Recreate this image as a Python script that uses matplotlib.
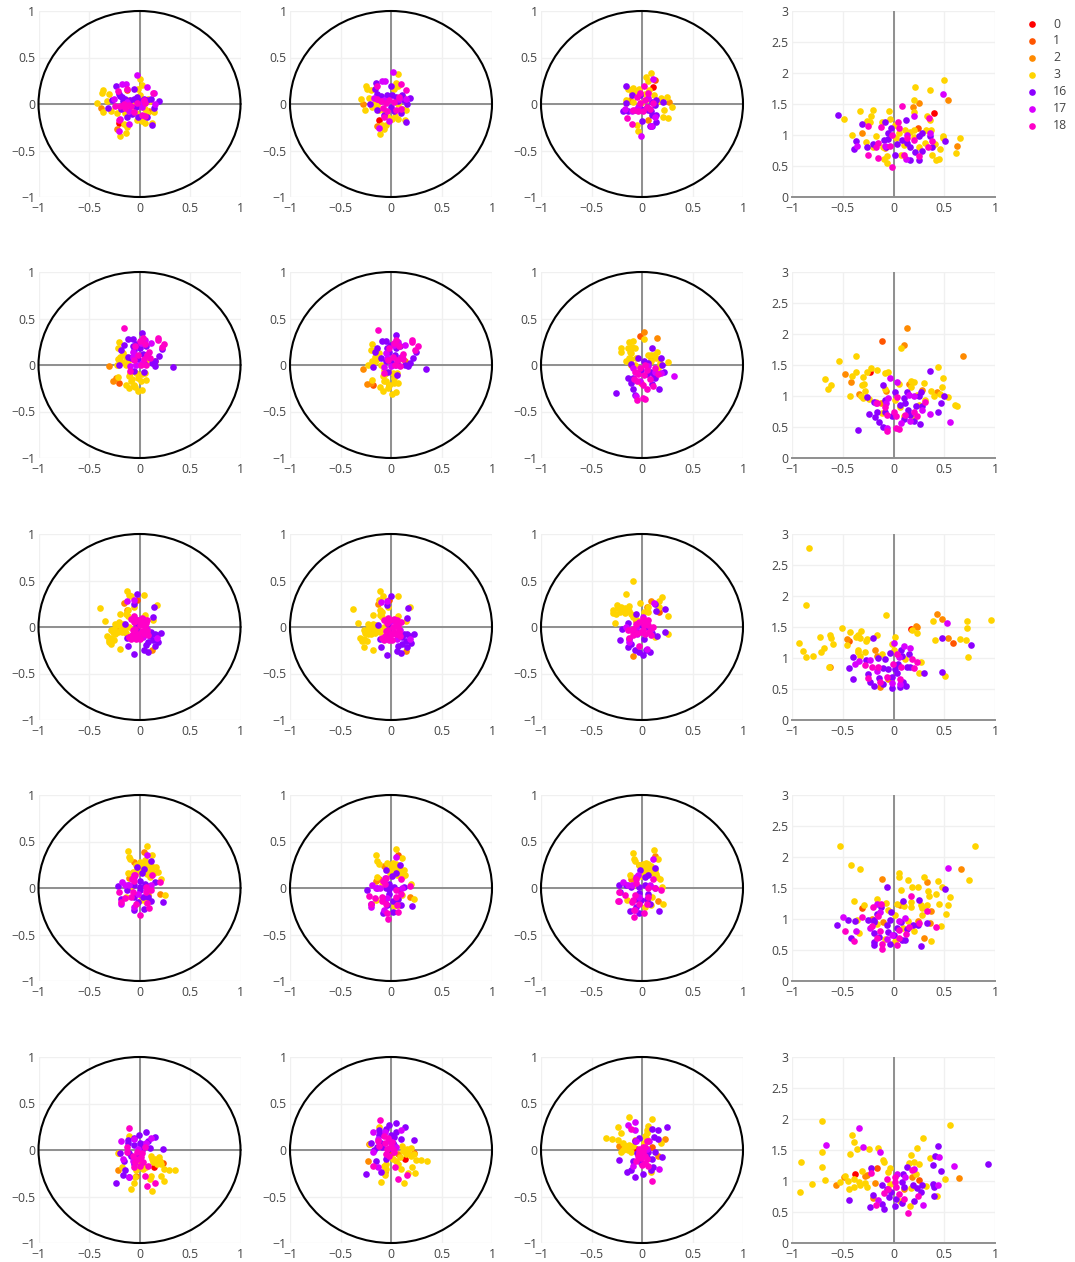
import matplotlib
matplotlib.use("Agg")
import matplotlib.pyplot as plt
from matplotlib.patches import Circle

SERIES = ["0", "1", "2", "3", "16", "17", "18"]
SERIES_KEYS = ["s0", "s1", "s2", "s3", "s16", "s17", "s18"]
COLORS = ["#ff0000", "#ff5500", "#ff8a00", "#ffd400", "#8c00ff", "#d900ff", "#ff00c8"]
CIRCLE_TICKS = [-1, -0.5, 0, 0.5, 1]
CIRCLE_LABELS = ["\u22121", "\u22120.5", "0", "0.5", "1"]
Y_TICKS = [0, 0.5, 1, 1.5, 2, 2.5, 3]
Y_LABELS = ["0", "0.5", "1", "1.5", "2", "2.5", "3"]

# ---------- row 1 ----------
p11_s0 = [(-.2,-.2)]
p11_s1 = [(-.12,.15)]
p11_s2 = [(-.38,-.04),(-.22,-.27),(.09,-.08)]
p11_s3 = [(-.42,.01),(-.36,.15),(-.37,.12),(-.30,.11),(-.32,.03),(-.36,-.09),(-.28,-.07),(-.22,-.1),(-.19,-.34),(-.13,-.31),(-.12,-.25),(-.15,-.22),(-.14,-.1),(-.08,-.08),(-.02,-.17),(.02,-.18),(.05,-.2),(.12,-.2),(.14,-.09),(.05,-.05),(.08,.05),(.0,.27),(.02,.2),(-.01,.16),(.0,.1),(-.1,.04),(-.05,.02),(.1,.03),(.03,-.03),(-.03,-.1),(.07,-.1)]
p11_s16 = [(-.23,.19),(-.05,.16),(-.31,-.04),(.19,.03),(.14,-.04),(.12,-.23),(.07,-.14),(-.27,.04),(-.2,.11),(-.17,.07),(-.14,.05),(-.05,.05),(-.02,.07),(.04,.05),(.11,.05),(-.03,-.03),(-.07,-.11),(-.12,-.14),(-.01,-.14),(-.18,-.05),(-.19,.09),(-.16,.03),(-.09,.04),(.01,.03),(.07,.04)]
p11_s17 = [(-.02,.31),(-.17,.21),(-.13,.21),(.07,.18),(.14,.12),(-.25,.05),(.15,.0),(-.2,-.29),(-.12,.02),(.03,.02),(-.1,-.07),(.02,-.03),(-.19,-.16),(-.1,-.21)]
p11_s18 = [(-.21,.14),(-.12,.16),(.13,.12),(-.24,-.02),(-.14,-.04),(-.05,-.09),(.04,.04),(.02,-.12),(.05,-.13),(-.2,-.17),(-.08,-.02),(-.19,-.02),(-.1,-.01),(-.02,.01),(.05,.01),(-.15,.0)]

p12_s0 = [(-.12,-.17)]
p12_s2 = [(-.28,0),(-.14,-.24),(.11,-.05)]
p12_s3 = [(-.30,.05),(-.25,.19),(-.24,.16),(-.2,.15),(-.26,-.06),(-.19,-.03),(-.135,-.01),(-.12,-.06),(-.11,-.32),(-.07,-.27),(-.09,-.23),(-.05,-.23),(.01,-.16),(.07,-.16),(.14,-.17),(.15,-.06),(.07,0),(.05,.23),(.07,.19),(.03,.16),(.07,.32),(.12,.08),(-.07,-.06),(-.03,-.14),(.04,-.13),(-.22,.06),(-.16,.02)]
p12_s16 = [(-.15,.23),(0,.19),(-.21,0),(.19,.06),(.155,0),(.15,-.19),(.1,-.1),(-.135,.11),(-.1,.09),(-.05,.04),(.01,.1),(.05,.08),(.11,.1),(0,-.03),(.03,-.08),(-.07,-.12),(-.14,-.06),(.13,.04),(-.16,.16),(-.13,.05),(-.04,.1),(.07,.03)]
p12_s17 = [(.02,.34),(-.09,.25),(-.06,.25),(-.12,-.26),(-.02,-.18),(.145,.05),(-.17,.06),(-.07,.04),(.08,.05)]
p12_s18 = [(.1,.22),(.145,.15),(-.135,.19),(-.135,.05),(-.05,.01),(.08,.08),(-.04,-.08),(.05,-.06),(-.07,-.14),(.1,-.05),(-.1,.03),(-.02,.04),(.03,.02),(-.08,-.04)]

p13_s0 = [(.11,.18)]
p13_s1 = [(.125,.26)]
p13_s2 = [(.27,.025),(-.12,.04),(.06,-.17)]
p13_s3 = [(.09,.33),(.04,.29),(.06,.25),(-.09,.17),(-.055,.14),(-.14,.16),(-.155,.04),(.25,.08),(.19,.06),(.3,-.03),(.22,-.06),(.21,-.14),(.26,-.15),(-.045,-.23),(-.04,-.29),(.07,.15),(.12,.1),(.14,.02),(-.155,.01),(-.09,.025),(-.005,.01),(.06,.05),(-.07,-.06),(.03,.11),(-.03,.16),(-.1,.12),(.17,.03)]
p13_s16 = [(-.16,.19),(.21,.02),(-.19,-.07),(0,-.18),(.075,-.24),(.1,-.24),(.14,-.19),(.14,-.12),(.09,-.08),(.14,.04),(.125,-.01),(-.1,.1),(-.02,.1),(-.055,-.065),(-.14,-.07),(.045,-.03),(.06,-.065),(-.155,.01),(.1,.02),(-.01,-.05),(.1,-.12)]
p13_s17 = [(.11,.27),(-.01,-.34),(.085,-.24),(-.17,-.05),(-.095,-.08),(.06,.06),(-.04,-.03),(.125,-.14)]
p13_s18 = [(.02,.19),(-.145,-.15),(-.095,-.21),(-.02,.115),(.06,.115),(-.09,-.065),(.01,-.08),(.11,.01),(-.02,.01),(.025,.04),(-.05,.07),(.05,-.03),(-.04,-.08),(.08,-.05)]

p14_s0 = [(.4,1.36)]
p14_s1 = [(.24,1.12)]
p14_s2 = [(.54,1.57),(.25,1.52),(.19,1.45),(-.31,1.04),(.63,.83),(-.08,.79)]
p14_s3 = [(-.49,1.26),(-.33,1.38),(-.2,1.4),(-.22,1.31),(-.26,1.23),(-.23,1.21),(-.11,1.21),(-.41,1.0),(-.27,.88),(-.17,.98),(-.2,.8),(-.04,1.38),(-.03,1.26),(.01,1.16),(.2,1.57),(.21,1.78),(.36,1.72),(.5,1.89),(.2,1.37),(.33,1.31),(.36,1.25),(.37,1.08),(.32,1.08),(.49,.99),(.49,.95),(.66,.95),(.62,.71),(.46,.77),(.45,.62),(.42,.59),(.38,.67),(.41,.86),(-.09,.61),(-.06,.66),(-.06,.55),(.07,.67),(.11,1.08),(.2,1.08),(.16,1.05),(.05,1.03),(.02,.95),(.1,.84),(.25,.81),(.31,.87),(.2,.97),(-.1,.81)]
p14_s16 = [(-.55,1.32),(-.31,1.17),(-.08,1.21),(.12,1.24),(-.37,.91),(-.39,.78),(-.26,.81),(-.2,.86),(-.09,.92),(-.055,1.03),(-.02,1.11),(-.055,.93),(-.07,.81),(.015,.68),(.08,.92),(.16,.81),(.13,.87),(.21,.72),(.25,.6),(.16,.59),(.28,.74),(.28,1.03),(.255,.98),(.355,.98),(.38,.81),(.505,.9),(.03,.86)]
p14_s17 = [(.49,1.66),(.2,1.3),(-.36,.83),(-.08,.82),(.13,1.0),(.12,.61),(.36,1.03)]
p14_s18 = [(.085,1.46),(.35,1.27),(.045,1.21),(-.25,1.14),(-.12,1.13),(.055,1.11),(-.255,.68),(-.15,.63),(-.15,.87),(-.17,.81),(-.03,.83),(-.015,.49),(.105,.67),(.25,.66),(.335,.81),(.375,.9),(.13,.95),(.2,.92),(-.01,1.0)]

# ---------- row 2 ----------
p21_s1 = [(-.2,-.19)]
p21_s2 = [(-.3,-.015),(-.26,-.175),(-.23,-.14),(-.05,-.23),(.15,.04)]
p21_s3 = [(-.2,.25),(-.215,.18),(-.19,.09),(-.215,.06),(-.225,0),(-.165,.13),(-.13,.09),(-.115,.04),(-.13,0),(-.105,-.12),(-.08,-.175),(-.05,-.21),(-.015,-.14),(-.03,-.085),(-.13,-.21),(-.1,-.25),(-.015,-.275),(.025,-.27),(.06,-.16),(.015,-.175),(.065,.04),(.05,-.085),(-.215,-.13),(-.09,-.09),(.02,-.1),(-.17,.03),(-.04,-.24),(-.07,-.15)]
p21_s16 = [(.02,.34),(-.11,.28),(-.065,.28),(-.18,.165),(-.15,.21),(-.065,.2),(-.05,.165),(.005,.18),(.065,.2),(-.115,.09),(-.08,.075),(.225,.17),(.19,.1),(.15,.04),(.12,.02),(.155,-.015),(.335,-.02),(-.2,0),(-.055,-.06),(.045,-.08),(-.015,.06),(.03,.12),(-.03,.23),(.04,.02)]
p21_s17 = [(-.065,.145),(.115,.235),(.015,.235),(.05,.27),(.07,.11),(-.06,.09),(-.09,-.015),(.025,.02),(-.03,0)]
p21_s18 = [(-.15,.4),(.18,.29),(.18,.27),(.245,.23),(.22,.195),(.005,.255),(.055,.225),(-.04,.2),(.09,.145),(.075,.105),(-.015,.11),(-.09,-.06),(.015,0),(.065,0),(.03,.29),(-.05,.05),(.1,.08),(.04,.06)]

p22_s1 = [(-.18,-.22)]
p22_s2 = [(-.28,-.04),(-.24,-.2),(-.2,-.19),(-.02,-.22),(.14,.04)]
p22_s3 = [(-.19,.23),(-.2,.165),(-.16,.09),(-.19,.04),(-.225,0),(-.12,.13),(-.135,.06),(-.1,0),(-.07,-.05),(-.08,-.12),(-.05,-.175),(-.02,-.21),(.03,-.14),(.015,-.085),(-.11,-.24),(-.08,-.275),(.005,-.31),(.045,-.29),(.07,-.19),(.03,-.19),(.08,.06),(.06,-.085),(-.185,-.16),(-.06,-.1),(.04,-.1),(-.16,.03),(-.03,-.25),(-.07,-.17)]
p22_s16 = [(.045,.32),(-.09,.255),(-.045,.255),(-.16,.14),(-.135,.18),(-.035,.18),(-.02,.145),(.045,.18),(.085,.2),(-.095,.075),(-.05,.04),(.245,.14),(.215,.075),(.185,.02),(.14,0),(.17,-.015),(.35,-.045),(-.18,-.025),(-.025,-.075),(.06,-.11),(0,.03),(.04,.11),(-.01,.22),(.06,.02)]
p22_s17 = [(-.045,.13),(.14,.21),(.03,.22),(.07,.25),(.095,.09),(-.035,.075),(-.07,-.025),(.045,0),(0,-.015)]
p22_s18 = [(-.13,.38),(.205,.27),(.205,.245),(.265,.205),(.24,.165),(.03,.235),(.08,.2),(-.02,.18),(.12,.12),(.105,.08),(.015,.09),(-.07,-.085),(.04,0),(.085,-.015),(.05,.27),(-.03,.05),(.12,.06),(.06,.05)]

p23_s1 = [(-.02,.31)]
p23_s2 = [(.02,.355),(.15,.29),(-.11,0),(-.005,-.19),(.09,.075)]
p23_s3 = [(-.13,.25),(-.09,.26),(.015,.28),(-.205,.18),(-.21,.14),(-.14,.18),(-.07,.18),(-.155,.045),(-.105,.13),(-.105,.06),(-.055,.08),(-.07,0),(.15,.145),(.06,.11),(.14,.075),(.26,.03),(.09,.11),(.175,.02),(-.12,.145),(-.04,-.085),(.09,.04),(.16,-.03),(-.13,.08),(-.1,.19),(.12,.11)]
p23_s16 = [(.1,.18),(-.04,.08),(-.11,.01),(.19,.07),(.2,0),(.22,-.075),(-.14,-.14),(-.09,-.14),(-.11,-.19),(-.09,-.255),(-.07,-.32),(-.255,-.3),(.06,.02),(-.005,-.05),(.09,-.07),(.125,-.14),(.17,-.255),(.115,-.105),(.02,.04),(.05,-.1),(.1,-.2)]
p23_s17 = [(.32,-.12),(-.06,-.33),(.19,-.085),(.125,-.07),(-.02,-.175),(-.09,-.03),(.06,-.015)]
p23_s18 = [(-.045,-.38),(.01,-.355),(.03,-.365),(-.045,-.175),(.01,-.21),(.11,-.23),(.045,-.255),(-.04,-.095),(.025,.005),(.125,-.03),(.16,-.095),(-.07,-.07),(.05,-.05),(-.02,-.03),(.08,-.15),(-.08,-.15),(.02,-.11)]

p24_s0 = [(-.23,1.39)]
p24_s1 = [(-.11,1.88)]
p24_s2 = [(.13,2.1),(.1,1.83),(.685,1.64),(-.48,1.35),(-.42,1.23),(-.34,1.04),(-.07,1.08),(.15,1.19),(.28,1.09),(.43,1.06),(-.12,.88)]
p24_s3 = [(-.67,1.28),(-.65,1.12),(-.62,1.17),(-.54,1.56),(-.37,1.65),(-.37,1.39),(-.41,1.32),(-.43,1.0),(-.3,1.31),(-.26,1.39),(-.22,1.45),(-.16,1.42),(-.08,1.37),(-.05,1.38),(-.29,1.2),(-.31,1.17),(-.28,1.08),(-.32,1.0),(-.3,.96),(-.24,.95),(-.08,1.12),(.05,1.19),(.075,1.77),(.17,1.25),(.2,1.22),(.17,1.15),(.3,1.21),(.44,1.46),(.49,1.29),(.48,1.15),(.365,1.08),(.4,1.0),(.46,1.03),(.54,.99),(.61,.86),(.63,.84),(.31,.94),(.23,1.02),(.015,.94),(.065,.83),(-.115,.73),(.1,.67),(.18,.64),(-.17,.91),(.25,.86)]
p24_s16 = [(.355,1.4),(-.1,1.18),(.015,1.06),(-.265,.98),(-.19,.91),(-.085,.94),(-.165,.74),(-.245,.71),(-.18,.66),(-.14,.58),(-.1,.5),(-.35,.45),(-.08,.75),(-.015,.68),(.065,.86),(.115,.88),(.13,1.07),(.1,.97),(.27,1.07),(.255,1.0),(.5,1.0),(.465,.89),(.435,.74),(.22,.84),(.28,.84),(.26,.55),(.2,.6),(.165,.7),(.14,.77),(.1,.63)]
p24_s17 = [(-.03,1.29),(.03,1.22),(-.075,.88),(-.17,.88),(-.05,.96),(.2,1.0),(.15,1.02),(.285,.78),(.36,.71),(.555,.58),(-.065,.49),(.165,.6),(.07,.57)]
p24_s18 = [(-.06,.44),(.025,.48),(.05,.46),(-.08,.82),(-.06,.7),(0,.75),(.025,.68),(.115,.69),(.23,.67),(.205,.75),(.31,.91),(.03,.99),(-.165,.88)]

# ---------- row 3 ----------
p31_s1 = [(-.025,.295)]
p31_s2 = [(-.155,.26),(.125,-.25),(-.12,.18),(-.215,-.035)]
p31_s3 = [(-.39,.2),(-.34,.06),(-.12,.39),(-.105,.34),(.045,.34),(-.195,.145),(-.11,.18),(.175,.235),(-.08,.33),(-.05,.22),(-.23,.02),(-.2,.055),(-.265,-.055),(-.32,-.1),(-.305,-.135),(-.28,-.185),(-.25,-.145),(-.195,-.235),(-.18,-.035),(-.215,-.055),(-.13,-.065),(-.1,0),(-.25,-.02),(.05,.125),(.13,.07),(-.3,-.16),(-.28,-.03),(-.24,.03),(-.2,.02),(-.16,.03),(-.24,-.07),(-.28,-.12),(-.17,-.05),(-.14,-.01),(-.13,.14),(-.11,.12)]
p31_s16 = [(-.02,.35),(-.05,.25),(.14,.215),(.135,.11),(-.145,.035),(.215,-.06),(.175,-.09),(.15,-.07),(.13,-.145),(.18,-.16),(.085,-.16),(.045,-.25),(.085,-.27),(-.055,-.29),(-.115,-.205),(-.12,-.12),(-.03,.035),(-.03,-.02),(.035,-.055),(.115,-.055),(.1,-.1),(.06,-.19),(.15,-.2)]
p31_s17 = [(-.12,.28),(-.055,.285),(-.1,-.105),(-.015,.07),(.035,-.105),(-.05,-.09),(.175,-.12),(.075,-.02)]
p31_s18 = [(-.08,.09),(-.05,.115),(.035,.09),(.075,.07),(0,.02),(.05,0),(-.03,-.125),(-.08,-.125),(-.01,-.07),(.085,-.09),(-.065,-.035),(.025,.055),(-.05,.05),(-.02,.08),(.02,.1),(.06,.04),(-.04,-.02),(.02,-.04),(-.07,-.09),(-.1,-.11),(-.03,-.1),(0,-.13),(.04,-.07),(.07,-.04)]

p32_s1 = [(-.015,.285)]
p32_s2 = [(-.13,.25),(.145,-.26),(-.095,.16),(-.205,-.055)]
p32_s3 = [(-.375,.19),(-.325,.045),(-.105,.385),(-.08,.33),(.065,.33),(-.18,.13),(-.09,.16),(.19,.22),(-.12,.285),(-.025,.22),(-.22,0),(-.18,.035),(-.255,-.065),(-.31,-.115),(-.285,-.15),(-.265,-.21),(-.24,-.15),(-.18,-.25),(-.165,-.035),(-.2,-.07),(-.105,-.055),(-.07,0),(-.23,-.03),(.07,.115),(.145,.065),(-.105,.18),(-.27,-.03),(-.23,.03),(-.19,.01),(-.15,.02),(-.23,-.08),(-.27,-.13),(-.16,-.06),(-.13,-.02),(-.11,.13),(-.09,.11)]
p32_s16 = [(0,.335),(-.035,.235),(.165,.2),(.155,.095),(-.13,.025),(.23,-.07),(.19,-.1),(.16,-.08),(.15,-.155),(.2,-.17),(.11,-.18),(.06,-.26),(.1,-.28),(-.035,-.305),(-.1,-.22),(-.11,-.125),(-.025,.035),(-.025,-.035),(.045,-.07),(.125,-.07),(.11,-.11),(.07,-.2),(.16,-.21)]
p32_s17 = [(-.1,.27),(-.035,.28),(-.08,-.125),(0,.065),(.055,-.125),(-.035,-.1),(.19,-.125),(.09,-.03)]
p32_s18 = [(-.065,.08),(-.03,.1),(.055,.08),(.1,.055),(.02,.005),(.065,-.005),(-.015,-.135),(-.065,-.135),(.01,-.08),(.09,-.1),(-.045,-.045),(.045,.045),(-.04,.04),(-.01,.07),(.03,.09),(.07,.03),(-.03,-.03),(.03,-.05),(-.06,-.1),(-.09,-.12),(-.02,-.11),(.01,-.14),(.05,-.08),(.08,-.05)]

p33_s1 = [(.17,.16)]
p33_s2 = [(.09,.28),(.045,.21),(-.09,-.315),(-.06,.065)]
p33_s3 = [(-.09,.49),(-.155,.36),(-.25,.24),(-.285,.18),(-.285,.155),(-.24,.2),(-.255,.145),(-.21,.215),(-.185,.185),(-.165,.15),(-.125,.23),(-.11,.145),(-.09,.11),(-.265,.045),(-.015,.26),(.17,.28),(.2,.32),(.255,.12),(.255,-.07),(.055,.21),(.055,.16),(.13,-.105),(.17,.215),(-.045,.07),(-.22,.16),(-.17,.2),(-.13,.17),(.02,.16)]
p33_s16 = [(.125,.25),(.14,.17),(.225,.19),(-.06,.145),(-.14,.045),(-.2,-.025),(-.22,-.135),(-.13,-.125),(-.135,-.215),(-.065,-.25),(.005,-.305),(.08,-.27),(.04,-.25),(.015,-.13),(.15,-.1),(.23,-.055),(-.025,.02),(-.06,-.035),(.04,0),(-.11,-.18),(-.03,-.27),(.1,-.06)]
p33_s17 = [(.12,.26),(.005,.11),(-.13,-.16),(.045,-.235),(-.16,0),(-.06,0),(.09,-.02),(-.045,-.07)]
p33_s18 = [(.005,.09),(.055,.07),(.105,0),(.07,-.055),(-.01,-.055),(-.11,-.035),(-.06,.035),(-.13,-.115),(-.025,-.2),(.09,-.09),(.04,.055),(-.09,-.09),(-.03,.05),(.02,.02),(.06,.02),(-.09,-.02),(-.05,-.06),(.03,-.08),(.01,-.03),(-.14,-.03)]

p34_s0 = [(.17,1.47)]
p34_s1 = [(.585,1.25),(-.44,1.27)]
p34_s2 = [(.425,1.71),(.48,1.63),(.22,1.52),(.235,1.5),(.535,1.33),(-.455,1.31),(-.18,1.13),(-.165,1.03),(-.63,.86),(-.13,.53),(-.05,.66)]
p34_s3 = [(-.83,2.77),(-.86,1.85),(-.93,1.25),(-.89,1.11),(-.86,1.02),(-.79,1.04),(-.71,1.1),(-.68,1.16),(-.72,1.34),(-.63,1.37),(-.62,1.33),(-.6,1.23),(-.64,.86),(-.51,1.48),(-.43,1.42),(-.46,1.21),(-.32,1.44),(-.37,1.34),(-.35,1.37),(-.33,1.32),(-.26,1.31),(-.27,1.27),(-.35,1.13),(-.35,1.1),(-.33,1.03),(-.28,1.1),(-.16,1.37),(-.07,1.69),(.01,1.34),(-.01,1.23),(0,1.13),(-.115,1.07),(.115,.99),(.18,1.45),(.23,1.41),(.39,1.59),(.41,1.29),(.66,1.31),(.71,1.29),(.72,1.59),(.725,1.48),(.73,1.02),(.96,1.62),(.51,.71),(.27,.94),(.255,.76)]
p34_s16 = [(.48,1.32),(.765,1.21),(.475,.77),(.3,.76),(-.2,1.32),(-.395,1.01),(-.44,.84),(-.4,.66),(-.27,.97),(-.15,1.0),(-.08,.98),(-.03,1.08),(.07,1.13),(.15,1.07),(.08,1.03),(-.105,.84),(-.05,.83),(.015,.83),(.03,.76),(.045,.9),(.13,.85),(.165,.86),(-.25,.74),(-.23,.62),(-.19,.55),(-.14,.68),(-.105,.58),(-.015,.7),(-.01,.52),(.065,.54),(.125,.55),(.09,.62)]
p34_s17 = [(.53,1.57),(.005,1.24),(.16,1.16),(.105,1.2),(-.34,.95),(-.38,.9),(-.23,.96),(.05,1.01),(-.165,.79),(.065,.58),(-.015,.59)]
p34_s18 = [(.03,1.06),(.18,.99),(.23,.94),(.2,.84),(.075,.85),(-.005,.91),(-.28,.88),(-.21,.85),(-.155,.86),(-.25,.68),(-.065,.7),(.06,.66),(-.13,.62)]

# ---------- row 4 ----------
p41_s2 = [(.045,.385),(-.05,.28),(.205,-.06),(-.1,.11),(.08,-.08)]
p41_s3 = [(.075,.45),(-.115,.395),(-.105,.33),(-.09,.31),(.125,.36),(0,.28),(.05,.3),(-.03,.25),(.015,.225),(.08,.245),(.13,.225),(.16,.225),(.18,.17),(-.115,.16),(.05,.19),(.115,.19),(0,.17),(.215,.095),(.25,-.07),(.1,.12),(-.08,.01),(-.13,-.095),(.015,-.13),(.065,-.15),(.03,.25),(.1,.27),(-.02,.2),(.07,.15),(.14,.16),(-.06,.17)]
p41_s16 = [(.11,.29),(-.025,.225),(.04,.2),(.02,.165),(-.215,.02),(-.18,-.12),(.23,-.15),(-.055,-.24),(.045,-.225),(.115,-.14),(.005,.08),(.005,.01),(.005,-.025),(.05,.045),(.15,.065),(.035,-.095),(-.015,-.15),(-.05,.03),(-.115,.03),(.09,.02),(-.05,-.1),(.08,-.1),(-.12,-.02)]
p41_s17 = [(.075,.36),(-.17,.065),(-.14,.03),(-.1,.035),(-.055,.12),(-.05,.145),(-.18,-.17),(.115,.03),(-.015,-.06),(-.055,-.205)]
p41_s18 = [(.12,.145),(-.04,.145),(.205,.065),(-.2,-.045),(-.14,-.105),(-.18,-.15),(-.06,-.045),(.065,-.045),(0,-.285),(.09,-.215),(-.035,-.17),(.115,-.025),(-.07,.1),(-.05,.08),(.06,.01),(-.08,-.1),(.07,-.16)]

p42_s1 = [(.07,.35)]
p42_s2 = [(-.065,.235),(.185,-.1),(-.12,.095),(.06,-.115),(-.145,.075)]
p42_s3 = [(.05,.42),(-.145,.35),(-.135,.285),(-.12,.26),(.105,.32),(0,.25),(.045,.26),(-.035,.27),(.03,.21),(.08,.21),(.13,.19),(.14,.145),(-.135,.12),(.045,.165),(.095,.155),(-.02,.19),(.195,.045),(.23,-.115),(.11,.12),(-.085,.03),(-.15,-.13),(.03,-.195),(.08,-.185),(.11,-.07),(.02,.27),(.07,.25),(-.01,.16),(.06,.14),(.11,.18)]
p42_s16 = [(.085,.25),(-.05,.19),(.005,.13),(.045,.165),(-.235,-.025),(-.195,-.17),(.205,-.195),(-.08,-.265),(.02,-.26),(.095,-.18),(-.015,.045),(-.015,-.015),(-.015,-.06),(.03,.01),(.13,.01),(.015,-.145),(-.035,-.185),(-.05,-.005),(-.135,-.005),(.08,-.02),(-.06,-.12),(.07,-.12)]
p42_s17 = [(.05,.33),(-.19,.03),(-.15,-.005),(-.11,-.005),(-.07,.08),(-.06,.105),(-.195,-.205),(.105,-.005),(-.035,-.11),(-.07,-.24)]
p42_s18 = [(.1,.1),(-.05,.105),(.185,.02),(-.215,-.09),(-.16,-.11),(-.2,-.17),(-.085,-.095),(.045,-.095),(-.025,-.33),(.065,-.26),(-.035,-.265),(-.05,-.17),(.095,-.06),(-.08,.07),(-.06,.04),(.05,-.02),(-.09,-.14),(.06,-.18)]

p43_s2 = [(-.03,.245),(.16,-.145),(-.105,.1),(.045,-.13),(.13,.345)]
p43_s3 = [(.12,.405),(-.085,.38),(-.08,.315),(-.065,.285),(.16,.31),(.01,.26),(.06,.26),(-.025,.25),(.025,.21),(.075,.21),(.125,.19),(.14,.155),(-.115,.145),(.06,.155),(.11,.165),(-.005,.19),(.2,.01),(.21,-.17),(.18,.095),(-.09,.03),(-.145,-.13),(.025,-.205),(.09,-.185),(.1,-.095),(.04,.27),(.09,.24),(.03,.17),(-.01,.13),(.15,.12)]
p43_s16 = [(.13,.22),(-.015,.195),(.055,.145),(.025,.12),(-.23,.035),(-.22,-.045),(.17,-.245),(-.12,-.25),(-.03,-.265),(.075,-.17),(-.025,-.05),(-.025,.01),(.06,-.06),(.125,-.005),(-.005,-.13),(-.055,-.205),(.025,.03),(-.105,.01),(-.155,.03),(.08,.02),(-.06,-.12),(.05,-.12)]
p43_s17 = [(.11,.315),(-.19,.065),(-.14,.03),(-.1,.03),(-.055,.12),(-.04,.145),(-.23,-.14),(.075,.03),(-.025,-.095),(-.07,-.24)]
p43_s18 = [(.185,-.025),(.11,.1),(-.055,.1),(-.225,-.045),(-.17,-.07),(-.235,-.145),(-.07,-.08),(.06,-.095),(-.08,-.31),(.02,-.265),(-.08,-.24),(-.09,-.13),(.125,-.005),(-.025,-.17),(-.06,.05),(.06,.0),(-.1,-.15),(.05,-.17)]

p44_s1 = [(-.315,1.18)]
p44_s2 = [(.665,1.8),(-.115,1.65),(.33,1.6),(.37,1.13),(.36,.93),(.24,.97),(.3,.7),(-.1,.95),(-.21,1.0),(.065,1.23)]
p44_s3 = [(-.53,2.17),(-.42,1.87),(-.33,1.8),(.8,2.17),(.745,1.63),(.05,1.75),(.055,1.68),(.145,1.63),(.305,1.67),(.435,1.62),(.48,1.51),(.245,1.52),(.18,1.51),(.07,1.47),(.34,1.45),(.35,1.37),(.42,1.41),(.56,1.36),(.535,1.22),(.445,1.24),(.52,1.08),(.47,.89),(.365,.64),(.28,1.06),(.27,1.23),(.33,1.22),(.28,1.17),(.175,1.28),(.17,1.2),(.1,1.21),(.03,1.24),(-.385,1.29),(-.29,1.22),(-.16,1.32),(-.07,1.26),(-.05,1.15),(.01,1.06),(-.335,.77),(.2,.8),(.14,.96),(.09,.85),(-.08,.67),(.015,.65),(-.165,.92),(-.36,.99)]
p44_s16 = [(.51,1.49),(-.06,1.51),(.25,1.31),(.09,1.29),(-.02,1.11),(-.56,.91),(-.45,.99),(-.375,.97),(-.25,.98),(-.19,.99),(-.19,.95),(-.12,1.2),(-.165,1.08),(-.03,.99),(-.065,.9),(.33,.94),(.24,.91),(.19,.9),(-.19,.77),(-.415,.7),(-.19,.63),(-.19,.58),(-.14,.71),(-.05,.79),(0,.74),(-.03,.59),(.27,.57),(.115,.66),(.08,.66),(.03,.85),(.07,.95),(.13,.84)]
p44_s17 = [(.535,1.82),(-.5,1.04),(-.365,.8),(-.165,1.25),(-.13,1.12),(-.065,.68),(-.015,.75),(-.23,.85),(.055,.96),(.11,1.02)]
p44_s18 = [(-.475,.81),(-.39,.65),(-.315,1.03),(-.2,1.19),(-.125,1.25),(-.15,1.05),(.17,1.37),(.33,1.13),(.42,.87),(.25,.94),(-.21,.88),(-.13,.81),(-.16,.69),(-.115,.6),(-.11,.52),(.035,.58),(.05,.82),(.125,.76),(.15,.87),(.05,.7)]

# ---------- row 5 ----------
p51_s0 = [(.14,-.185)]
p51_s1 = [(.23,-.14)]
p51_s2 = [(-.215,-.22),(-.205,-.035),(-.03,-.275),(.015,-.15)]
p51_s3 = [(.35,-.22),(.29,-.215),(.24,-.2),(.21,-.275),(.24,-.335),(.125,-.44),(-.08,-.42),(-.05,-.355),(-.04,-.295),(-.03,-.22),(.115,-.06),(.15,-.095),(.19,-.08),(.13,-.13),(.17,-.15),(.215,-.15),(.1,-.31),(.115,-.28),(.035,-.205),(-.17,-.18),(-.1,.155),(-.215,-.035),(.065,-.185),(.16,-.13),(.12,-.1),(.2,-.12)]
p51_s16 = [(.23,.01),(.15,.145),(.065,.195),(-.005,.16),(-.115,.11),(-.115,.075),(-.05,.125),(.005,.08),(.105,.02),(-.19,-.03),(-.15,-.115),(-.14,-.21),(-.23,-.35),(-.08,-.06),(.025,-.005),(-.015,-.045),(-.05,-.15),(-.165,-.27),(-.1,-.295),(.015,.03),(-.1,-.03),(.04,.06),(-.05,.05),(.08,.1)]
p51_s17 = [(-.18,.095),(.11,.125),(-.055,.12),(-.16,-.1),(-.065,-.115),(-.105,-.285),(-.015,.01),(.065,.08)]
p51_s18 = [(-.105,.235),(-.12,.03),(-.12,-.02),(.05,-.275),(.075,-.385),(.155,-.355),(.08,-.17),(-.015,-.095),(.015,-.08),(-.05,-.185),(.05,.03),(0,-.17),(-.02,-.02),(.02,-.03),(-.04,-.13),(.03,-.13),(-.06,-.06)]

p52_s0 = [(.14,-.095)]
p52_s1 = [(.23,-.035),(0,-.045)]
p52_s2 = [(-.23,-.12),(-.22,.065),(-.06,-.24),(.07,-.045)]
p52_s3 = [(.355,-.115),(.295,-.11),(.245,-.105),(.21,-.18),(.24,-.245),(.13,-.36),(-.1,-.34),(-.06,-.27),(-.05,-.205),(-.045,-.15),(.11,.04),(.16,.01),(.195,.02),(.145,-.045),(.195,-.06),(.23,-.045),(.17,-.245),(.095,-.205),(.045,-.115),(-.21,.065),(-.12,.245),(.015,-.095),(.07,-.15),(-.07,-.17),(.12,-.01),(.17,-.03),(.09,-.07)]
p52_s16 = [(.225,.11),(.14,.245),(.05,.29),(-.02,.27),(-.12,.21),(-.12,.16),(-.05,.225),(0,.16),(.095,.12),(-.2,.075),(-.135,.03),(-.145,-.115),(-.245,-.255),(-.085,.03),(.015,.08),(-.025,.01),(-.05,-.095),(-.17,-.005),(-.1,-.24),(.03,.135),(-.08,.17),(-.1,.07),(.05,.19),(.03,.05)]
p52_s17 = [(-.18,.19),(.095,.22),(-.06,.195),(-.125,.12),(-.175,-.025),(-.125,-.185),(-.02,.1),(.045,.03)]
p52_s18 = [(-.11,.32),(-.13,.1),(-.12,.045),(.04,-.185),(.07,-.31),(.16,-.265),(-.18,-.175),(-.035,.01),(0,.045),(-.05,-.045),(.03,-.025),(-.07,.155),(-.03,.13),(.01,.09),(-.06,.08),(-.02,-.06),(.02,.01)]

p53_s0 = [(-.055,.01)]
p53_s1 = [(.1,.03)]
p53_s2 = [(.225,.12),(-.23,.045),(-.065,.11),(.16,-.06)]
p53_s3 = [(-.355,.125),(-.295,.12),(-.24,.11),(-.24,.25),(-.21,.18),(-.125,.36),(.1,.33),(.06,.26),(.045,.21),(.025,.155),(.06,.1),(-.19,.08),(-.155,.045),(-.19,-.005),(-.14,-.005),(-.09,.045),(-.105,-.025),(-.205,-.02),(.185,.075),(.09,-.24),(.015,.08),(-.17,.03),(-.13,.05),(.04,.13),(.05,.18)]
p53_s16 = [(.25,.245),(.1,.23),(.115,.145),(.16,.12),(.16,.21),(-.025,.13),(.2,-.08),(-.23,-.105),(-.15,-.235),(-.065,-.285),(.005,-.255),(.09,-.22),(-.105,-.22),(.06,-.025),(-.025,-.08),(.125,-.025),(.11,-.185),(-.07,.1),(-.005,-.135),(-.09,-.115),(-.05,-.03),(.05,-.08),(.1,-.1)]
p53_s17 = [(-.07,.305),(-.14,.27),(-.07,.21),(.07,.1),(-.055,.1),(-.09,-.17),(.17,-.2),(.045,.01),(-.025,-.025)]
p53_s18 = [(.1,-.33),(-.105,.225),(.05,.1),(.01,.03),(-.025,.01),(.025,-.06),(-.055,-.115),(.025,-.135),(.06,-.17),(-.04,-.06),(.01,-.025),(.03,.03),(-.01,-.09),(.05,-.1),(0,-.16),(-.03,-.03)]

p54_s0 = [(-.375,1.11)]
p54_s1 = [(.25,1.01),(-.16,1.21)]
p54_s2 = [(-.57,.93),(-.49,1.06),(-.285,1.08),(-.26,1.09),(-.18,.97),(.645,1.05),(.18,1.06),(-.2,.72),(.1,.87)]
p54_s3 = [(-.7,1.97),(.56,1.9),(-.41,1.74),(-.39,1.63),(-.36,1.52),(-.245,1.52),(-.15,1.54),(-.43,1.43),(-.705,1.47),(-.705,1.23),(-.91,1.31),(-.8,.95),(-.92,.83),(-.67,1.01),(-.53,.98),(-.48,1.08),(-.45,1.0),(-.44,.87),(-.39,.9),(-.385,1.03),(-.335,.99),(-.31,1.16),(-.33,.94),(-.28,.96),(-.26,.91),(-.105,1.34),(-.09,1.31),(-.03,1.21),(-.05,1.14),(.23,1.54),(.295,1.69),(.17,1.42),(.15,1.29),(.2,1.3),(.255,1.28),(.36,1.37),(.22,1.12),(.505,1.03),(.43,.76),(.32,.92),(.175,.89),(.16,.6),(-.03,.95),(.065,.68)]
p54_s16 = [(.935,1.28),(.435,1.56),(.405,1.4),(.385,1.26),(.465,1.16),(-.22,1.21),(.13,1.23),(.09,1.11),(-.115,.94),(-.435,.7),(-.235,.58),(-.2,.77),(-.09,.55),(-.115,.63),(.01,.59),(.085,.64),(.2,.67),(.19,.94),(.23,.88),(.27,.83),(.285,.94),(.39,.95),(.4,.91),(.395,.76),(-.065,.87),(-.025,.82),(-.04,.74),(.025,.71),(.08,.98),(.1,.9)]
p54_s17 = [(-.34,1.86),(-.665,1.58),(-.3,1.55),(-.135,1.47),(.45,1.39),(.6,1.24),(.44,.93),(.29,.62),(-.155,.69),(.2,1.19),(.03,1.11),(.115,1.06)]
p54_s18 = [(-.22,1.13),(-.06,1.03),(.015,1.06),(.18,1.18),(-.17,.61),(-.095,.81),(-.05,.87),(.025,.9),(.14,.49),(.245,.76),(.05,.79),(.1,.71),(.015,.98)]

W, H = 1075, 1262
COL_LEFT = [38.5, 290, 541, 792]
COL_W = [202, 202, 202, 203]
ROW_TOP = [11, 272, 534, 795, 1057]
ROW_H = 186

plt.rcParams["font.family"] = ["Open Sans", "DejaVu Sans"]
fig = plt.figure(figsize=(W / 100, H / 100), dpi=100, facecolor="white")
legend_handles = []

for r, top in enumerate(ROW_TOP):
    for c, left in enumerate(COL_LEFT):
        ax = fig.add_axes([left / W, 1 - (top + ROW_H) / H, COL_W[c] / W, ROW_H / H])
        scatter_col = c == 3
        ax.set_xlim(-1, 1)
        ax.set_xticks(CIRCLE_TICKS, CIRCLE_LABELS)
        if scatter_col:
            ax.set_ylim(0, 3)
            ax.set_yticks(Y_TICKS, Y_LABELS)
        else:
            ax.set_ylim(-1, 1)
            ax.set_yticks(CIRCLE_TICKS, CIRCLE_LABELS)
        ax.grid(True, color="#f0f0f0", lw=1.0, zorder=0)
        ax.set_axisbelow(True)
        for s in ax.spines.values():
            s.set_visible(False)
        ax.tick_params(axis="x", length=0, labelsize=8.8, colors="#444444", pad=3.5)
        ax.tick_params(axis="y", length=0, labelsize=8.8, colors="#444444", pad=2.5)
        ax.axvline(0, color="#8f8f8f", lw=1.4, zorder=1)
        ax.axhline(0, color="#8f8f8f", lw=1.4, zorder=1, clip_on=False)
        if not scatter_col:
            ax.add_patch(Circle((0, 0), 1, fill=False, ec="black", lw=1.5, zorder=4, clip_on=False))
        for key, name, color in zip(SERIES_KEYS, SERIES, COLORS):
            pts = globals().get(f"p{r + 1}{c + 1}_{key}", [])
            if pts:
                xs, ys = zip(*pts)
                h = ax.scatter(xs, ys, s=23, color=color, linewidths=0, zorder=3, clip_on=False)
                if r == 0 and c == 3:
                    h.set_label(name)
                    legend_handles.append(h)

fig.legend(handles=legend_handles, loc="upper left", bbox_to_anchor=(1023 / W, 1 - 17.5 / H),
           frameon=False, fontsize=8.8, labelspacing=0.32, handletextpad=0.95,
           labelcolor="#444444", handlelength=1.5, borderaxespad=0, borderpad=0)

fig.savefig("out.png", dpi=100)
